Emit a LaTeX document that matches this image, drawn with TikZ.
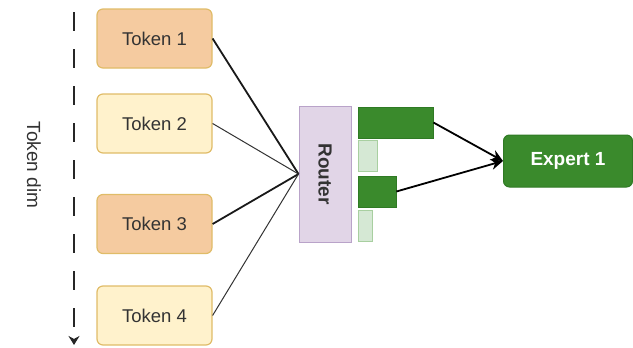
\documentclass[tikz,border=0pt]{standalone}
\usepackage{fontspec}
\setmainfont{Liberation Sans}
\usetikzlibrary{arrows.meta}
\definecolor{tokorange}{HTML}{F5CBA0}
\definecolor{tokyellow}{HTML}{FFF2CC}
\definecolor{tokborder}{HTML}{E0BC68}
\definecolor{routfill}{HTML}{E1D5E7}
\definecolor{routdraw}{HTML}{B9A3C9}
\definecolor{expgreen}{HTML}{3A8A2C}
\definecolor{expdraw}{HTML}{2F7A24}
\definecolor{barlight}{HTML}{D5E8D4}
\definecolor{barlightdraw}{HTML}{A8CFA0}
\definecolor{txtgray}{HTML}{333333}
\tikzset{
  tokbox/.style={draw=tokborder, line width=1.2pt, rounded corners=6pt, minimum width=115pt, minimum height=59pt, font=\fontsize{18.5}{20}\selectfont, text=txtgray, inner sep=0pt},
  tokA/.style={tokbox, fill=tokorange},
  tokB/.style={tokbox, fill=tokyellow},
  strongline/.style={line width=1.8pt, black!90},
  weakline/.style={line width=1pt, black!80},
  darkbar/.style={draw=expdraw, fill=expgreen, line width=0.8pt},
  lightbar/.style={draw=barlightdraw, fill=barlight, line width=0.8pt},
}
\begin{document}
\begin{tikzpicture}[x=1pt,y=-1pt]
\useasboundingbox (0,0) rectangle (633,348);
% tokens
\node[tokA] (t1) at (154.5,38.5) {Token 1};
\node[tokB] (t2) at (154.5,123.5) {Token 2};
\node[tokA] (t3) at (154.5,224) {Token 3};
\node[tokB] (t4) at (154.5,315.5) {Token 4};
% token dim axis
\coordinate (ds) at (74,12);
\coordinate (de) at (74,345);
\draw[line width=2.4pt, black!85, dash pattern=on 19pt off 18pt, -{Stealth[length=9pt,width=11pt]}] (ds) -- (de);
\node[rotate=-90, font=\fontsize{19}{20}\selectfont, text=txtgray] (dim) at (34,165) {Token dim};
% router
\node[draw=routdraw, fill=routfill, line width=1pt, minimum width=52pt, minimum height=136pt, inner sep=0pt] (r) at (325,174) {};
\node[rotate=-90, font=\bfseries\fontsize{19}{20}\selectfont, text=txtgray] (rl) at (r.center) {Router};
% connectors
\draw[strongline] (t1.east) -- (r.west);
\draw[weakline] (t2.east) -- (r.west);
\draw[strongline] (t3.east) -- (r.west);
\draw[weakline] (t4.east) -- (r.west);
% bars
\node[darkbar, minimum width=75pt, minimum height=31pt, inner sep=0pt] (b1) at (395.5,122.5) {};
\node[lightbar, minimum width=19pt, minimum height=31pt, inner sep=0pt] (b2) at (367.5,155.5) {};
\node[darkbar, minimum width=38pt, minimum height=31pt, inner sep=0pt] (b3) at (377,191.5) {};
\node[lightbar, minimum width=14pt, minimum height=31pt, inner sep=0pt] (b4) at (365,225.5) {};
% expert
\node[draw=expdraw, fill=expgreen, line width=1pt, rounded corners=6pt, minimum width=129pt, minimum height=52pt, inner sep=0pt, text=white, font=\bfseries\fontsize{19}{20}\selectfont] (e1) at (568,161) {Expert 1};
\draw[line width=1.8pt, -{Stealth[length=12pt,width=11pt]}] (b1.east) -- (e1.west);
\draw[line width=1.8pt, -{Stealth[length=12pt,width=11pt]}] (b3.east) -- (e1.west);
\end{tikzpicture}
\end{document}
